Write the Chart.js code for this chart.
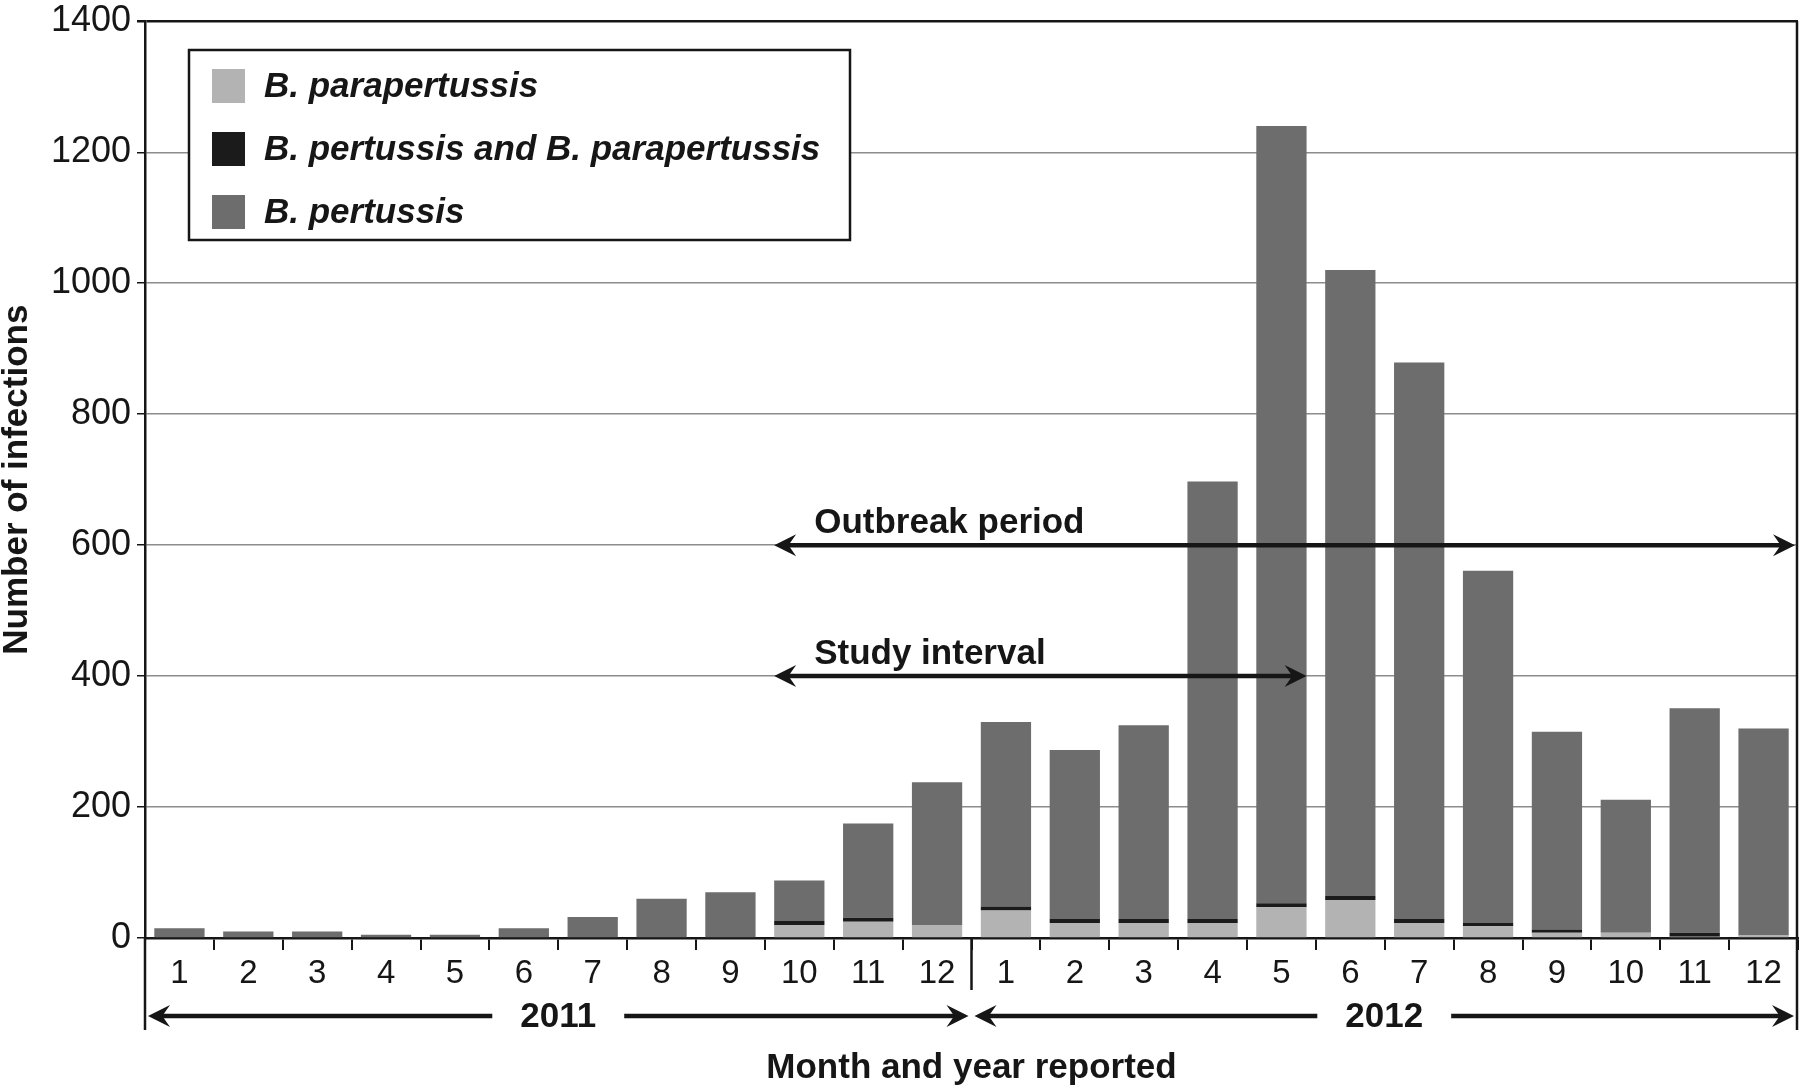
<!DOCTYPE html>
<html>
<head>
<meta charset="utf-8">
<script src="https://cdn.jsdelivr.net/npm/chart.js@4.4.0/dist/chart.umd.min.js"></script>
<style>
    html, body { margin: 0; padding: 0; background: #fff; }
</style>
</head>
<body>
<canvas id="chart" width="1800" height="1089"></canvas>
<script>
// Month labels for 2011 and 2012
const months = ['1', '2', '3', '4', '5', '6', '7', '8', '9', '10', '11', '12',
                '1', '2', '3', '4', '5', '6', '7', '8', '9', '10', '11', '12'];
const years = ['2011', '2012'];

// Infections per month
const paraValues      = [0, 0, 0, 0, 0, 0, 0, 0, 0, 20, 25, 20,
                         42, 23, 23, 23, 47, 58, 23, 18, 8, 8, 2, 4];
const bothValues      = [0, 0, 0, 0, 0, 0, 0, 0, 0, 6, 6, 0,
                         6, 6, 6, 6, 6, 6, 6, 5, 5, 0, 6, 0];
const pertussisValues = [15, 10, 10, 5, 5, 15, 32, 60, 70, 62, 144, 218,
                         282, 258, 296, 668, 1187, 956, 850, 538, 302, 203, 343, 316];

const yMax = 1400;
const yStep = 200;

// Arrows: [label, first month index, last month index (null = to end), y value]
const periods = [
    ['Outbreak period', 9, null, 600],
    ['Study interval', 9, 16, 400]
];

const ink = '#161616';
const fontFamily = 'Arial, "Liberation Sans", Helvetica, sans-serif';

function arrowHead(ctx, x, y, dir, len, half) {
    // dir = 1 : tip points left, dir = -1 : tip points right
    ctx.beginPath();
    ctx.moveTo(x, y);
    ctx.lineTo(x + dir * len, y - half);
    ctx.lineTo(x + dir * len * 0.65, y);
    ctx.lineTo(x + dir * len, y + half);
    ctx.closePath();
    ctx.fill();
}

function drawArrow(ctx, x1, x2, y) {
    ctx.save();
    ctx.strokeStyle = ink;
    ctx.fillStyle = ink;
    ctx.lineWidth = 4.5;
    ctx.beginPath();
    ctx.moveTo(x1 + 10, y);
    ctx.lineTo(x2 - 10, y);
    ctx.stroke();
    arrowHead(ctx, x1, y, 1, 22, 11);
    arrowHead(ctx, x2, y, -1, 22, 11);
    ctx.restore();
}

const extrasPlugin = {
    id: 'extras',
    afterDraw(chart) {
        const ctx = chart.ctx;
        const area = chart.chartArea;
        const xScale = chart.scales.x;
        const yScale = chart.scales.y;
        const bars = chart.getDatasetMeta(2).data;

        // Period arrows
        periods.forEach(([label, startIdx, endIdx, yVal]) => {
            const y = yScale.getPixelForValue(yVal);
            const x1 = bars[startIdx].x - bars[startIdx].width / 2;
            const x2 = endIdx === null ? area.right - 3 : bars[endIdx].x + bars[endIdx].width / 2;
            drawArrow(ctx, x1, x2, y);
            ctx.save();
            ctx.fillStyle = ink;
            ctx.font = 'bold 35px ' + fontFamily;
            ctx.textAlign = 'left';
            ctx.textBaseline = 'alphabetic';
            ctx.fillText(label, x1 + 40, y - 12);
            ctx.restore();
        });

        // Frame extensions and year separator
        const sepX = (xScale.getPixelForValue(11) + xScale.getPixelForValue(12)) / 2;
        ctx.save();
        ctx.strokeStyle = ink;
        ctx.lineWidth = 2.5;
        ctx.beginPath();
        ctx.moveTo(area.left, area.bottom);
        ctx.lineTo(area.left, 1030);
        ctx.moveTo(area.right - 1, area.top);
        ctx.lineTo(area.right - 1, 1030);
        ctx.moveTo(sepX, area.bottom);
        ctx.lineTo(sepX, 990);
        ctx.stroke();
        ctx.restore();

        // Year arrows
        const yearY = 1016;
        const spans = [[area.left + 3, sepX - 3], [sepX + 3, area.right - 4]];
        spans.forEach(([a, b], i) => {
            drawArrow(ctx, a, b, yearY);
            ctx.save();
            ctx.font = 'bold 35px ' + fontFamily;
            const w = ctx.measureText(years[i]).width;
            const cx = (a + b) / 2;
            ctx.fillStyle = '#fff';
            ctx.fillRect(cx - w / 2 - 28, yearY - 20, w + 56, 40);
            ctx.fillStyle = ink;
            ctx.textAlign = 'center';
            ctx.textBaseline = 'middle';
            ctx.fillText(years[i], cx, yearY + 1);
            ctx.restore();
        });

        // Legend box
        const lx = 189, ly = 50, lw = 661, lh = 190;
        ctx.save();
        ctx.fillStyle = '#fff';
        ctx.fillRect(lx, ly, lw, lh);
        ctx.strokeStyle = ink;
        ctx.lineWidth = 2.5;
        ctx.strokeRect(lx, ly, lw, lh);
        ctx.font = 'italic bold 35px ' + fontFamily;
        ctx.textBaseline = 'middle';
        ctx.textAlign = 'left';
        const order = [0, 1, 2];
        order.forEach((di, row) => {
            const ds = chart.data.datasets[di];
            const cy = ly + 36 + row * 63;
            ctx.fillStyle = ds.backgroundColor;
            ctx.fillRect(lx + 23, cy - 17, 33, 34);
            ctx.fillStyle = ink;
            ctx.fillText(ds.label, lx + 75, cy + 1);
        });
        ctx.restore();
    }
};

new Chart(document.getElementById('chart'), {
    type: 'bar',
    data: {
        labels: months,
        datasets: [
            { label: 'B. parapertussis', data: paraValues, backgroundColor: '#b3b3b3' },
            { label: 'B. pertussis and B. parapertussis', data: bothValues, backgroundColor: '#1b1b1b' },
            { label: 'B. pertussis', data: pertussisValues, backgroundColor: '#6d6d6d' }
        ]
    },
    options: {
        responsive: false,
        devicePixelRatio: 1,
        animation: false,
        datasets: {
            bar: { categoryPercentage: 1, barPercentage: 0.73, borderWidth: 0 }
        },
        layout: { padding: { top: 0, right: 2, bottom: 0, left: 0 } },
        plugins: {
            legend: { display: false },
            tooltip: { enabled: false }
        },
        scales: {
            x: {
                stacked: true,
                afterFit: scale => { scale.height = 151; },
                grid: {
                    offset: true,
                    drawOnChartArea: false,
                    tickLength: 12,
                    color: ink,
                    lineWidth: 2
                },
                border: { color: ink, width: 2.5 },
                ticks: {
                    color: ink,
                    padding: 4,
                    maxRotation: 0,
                    autoSkip: false,
                    font: { family: fontFamily, size: 33 }
                },
                title: {
                    display: true,
                    text: 'Month and year reported',
                    color: ink,
                    padding: { top: 0, bottom: 0 },
                    font: { family: fontFamily, size: 35, weight: 'bold' }
                }
            },
            y: {
                stacked: true,
                min: 0,
                max: yMax,
                afterFit: scale => { scale.width = 145; },
                grid: {
                    color: ctx => (ctx.tick && ctx.tick.value === yMax) ? ink : '#8c8c8c',
                    lineWidth: ctx => (ctx.tick && ctx.tick.value === yMax) ? 2.5 : 1.5,
                    tickColor: ink,
                    tickLength: 8
                },
                border: { color: ink, width: 2.5 },
                ticks: {
                    stepSize: yStep,
                    color: ink,
                    padding: 6,
                    callback: value => String(value),
                    font: { family: fontFamily, size: 36, lineHeight: 0.85 }
                },
                title: {
                    display: true,
                    text: 'Number of infections',
                    color: ink,
                    padding: 0,
                    font: { family: fontFamily, size: 35, weight: 'bold', lineHeight: 1.0 }
                }
            }
        }
    },
    plugins: [extrasPlugin]
});
</script>
</body>
</html>
